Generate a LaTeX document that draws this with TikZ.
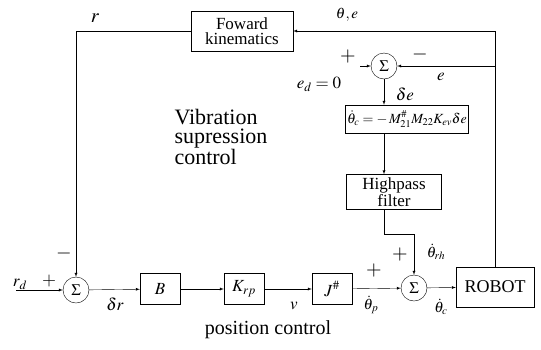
\documentclass[tikz,border=0pt]{standalone}
\usepackage{mathptmx}
\usepackage{fontspec}
\setmainfont{Liberation Serif}
\usetikzlibrary{positioning}

\begin{document}
\begin{tikzpicture}[x=1pt,y=-1pt,>=latex,
  blk/.style={draw,minimum width=40pt,minimum height=31pt,inner sep=1pt,font=\fontsize{17}{15}\selectfont},
  sumpt/.style={draw,circle,minimum size=26pt,inner sep=0pt,font=\fontsize{16}{16}\selectfont},
  lbl/.style={inner sep=0.5pt,font=\fontsize{17}{17}\selectfont}]
  \useasboundingbox (0,0) rectangle (541,349);

  % blocks
  \node[blk,minimum width=102pt,minimum height=40pt,align=center] (fk) at (242,31) {Foward\\kinematics};
  \node[sumpt] (s3) at (384,66) {$\Sigma$};
  \node[blk,minimum width=123pt,minimum height=28pt,font=\fontsize{14}{14}\selectfont] (law) at (407,119) {$\dot\theta_c = -\,M_{21}^{\#} M_{22} K_{ev}\delta e$};
  \node[blk,minimum width=95pt,minimum height=35pt,align=center] (hp) at (394,192) {Highpass\\filter};
  \node[sumpt] (s1) at (76,290) {$\Sigma$};
  \node[blk] (b) at (160,289) {$B$};
  \node[blk] (kp) at (244,289) {$K_{rp}$};
  \node[blk] (jinv) at (332,289) {$J^{\#}$};
  \node[sumpt] (s2) at (414,288) {$\Sigma$};
  \node[blk,minimum width=78pt,minimum height=40pt,font=\fontsize{18}{18}\selectfont] (robot) at (495,287) {ROBOT};

  % vibration loop
  \coordinate (tap) at (robot.north |- fk.east);
  \coordinate (edin) at (360,66);
  \draw[->] (robot.north) -- (tap) -- (fk.east);
  \draw[->] (tap |- s3.east) -- (s3.east);
  \draw[->] (edin) -- (s3.west);
  \draw[->] (s3.south) -- (s3.south |- law.north);
  \draw[->] (s3 |- law.south) -- (s3 |- hp.north);
  \draw[->] (s3 |- hp.south) -- ++(0,24) -| (s2.north);

  % position loop
  \coordinate (rdin) at (16,290);
  \draw[->] (fk.west) -| (s1.north);
  \draw[->] (rdin) -- (s1.west);
  \draw[->] (s1) -- (b);
  \draw[->] (b) -- (kp);
  \draw[->] (kp) -- (jinv);
  \draw[->] (jinv) -- (s2);
  \draw[->] (s2) -- (robot);

  % labels
  \node[lbl,font=\fontsize{20}{20}\selectfont] at (95,18) {$\mathbf{\mathit{r}}$};
  \node[lbl,font=\fontsize{15}{15}\selectfont] at (347,15) {$\theta, e$};
  \node[lbl,font=\fontsize{20}{20}\selectfont] at (348,57) {$+$};
  \node[lbl,font=\fontsize{20}{20}\selectfont] at (420,54) {$-$};
  \node[lbl] at (441,77) {$e$};
  \node[lbl] at (319,84) {$e_d = 0$};
  \node[lbl] at (405,94) {$\delta e$};
  \node[lbl,font=\fontsize{20}{20}\selectfont] at (64,253) {$-$};
  \node[lbl] at (20,284) {$r_d$};
  \node[lbl,font=\fontsize{18}{18}\selectfont] at (49,281) {$+$};
  \node[lbl] at (115,304) {$\delta r$};
  \node[lbl] at (294,306) {$v$};
  \node[lbl,font=\fontsize{20}{20}\selectfont] at (374,270) {$+$};
  \node[lbl,font=\fontsize{15}{15}\selectfont] at (371,305) {$\dot\theta_p$};
  \node[lbl,font=\fontsize{20}{20}\selectfont] at (400,254) {$+$};
  \node[lbl,font=\fontsize{15}{15}\selectfont] at (436,252) {$\dot\theta_{rh}$};
  \node[lbl,font=\fontsize{15}{15}\selectfont] at (441,307) {$\dot\theta_c$};
  \node[anchor=west,align=left,font=\fontsize{22}{19}\selectfont] (vib) at (171,137) {Vibration\\supression\\control};
  \node[font=\fontsize{20}{20}\selectfont] (pos) at (268,330) {position control};

\end{tikzpicture}
\end{document}
